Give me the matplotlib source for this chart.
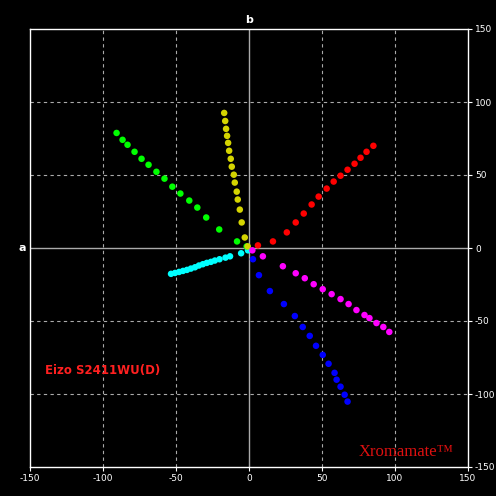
import matplotlib.pyplot as plt

plt.rcParams['axes.unicode_minus'] = False

red_a = [6.1, 16.4, 25.9, 32.0, 37.5, 42.9, 47.7, 53.2, 58.0, 62.7, 67.5, 72.3, 76.4, 80.5, 85.2]
red_b = [1.8, 4.5, 10.7, 17.5, 23.6, 29.8, 35.2, 40.7, 45.5, 49.5, 53.6, 57.7, 61.8, 65.9, 70.0]
magenta_a = [2.3, 9.5, 23.2, 32.0, 38.2, 44.3, 50.5, 56.6, 62.7, 68.2, 73.6, 79.1, 82.5, 87.3, 92.0, 96.1]
magenta_b = [-1.6, -5.7, -12.5, -17.3, -20.7, -24.8, -28.2, -31.6, -35.0, -38.4, -42.5, -45.9, -48.0, -51.4, -54.1, -57.5]
blue_a = [2.7, 6.8, 14.3, 23.9, 31.4, 36.8, 41.6, 45.9, 50.5, 54.5, 58.6, 60.0, 62.7, 65.5, 67.5]
blue_b = [-7.7, -18.6, -29.5, -38.4, -46.6, -54.1, -60.2, -67.0, -73.2, -79.3, -85.5, -90.2, -95.0, -100.5, -105.2]
yellow_a = [-17.0, -16.3, -15.7, -15.0, -14.3, -13.6, -12.5, -11.8, -10.4, -9.75, -8.4, -7.7, -6.3, -5.0, -2.9, -0.9]
yellow_b = [92.5, 87.0, 81.6, 76.8, 72.0, 66.6, 61.1, 55.7, 50.2, 44.8, 38.6, 33.2, 26.3, 17.5, 7.2, 1.1]
green_a = [-90.7, -86.6, -83.2, -78.4, -73.6, -68.8, -63.4, -57.9, -52.5, -47.0, -40.9, -35.4, -29.3, -20.4, -8.2, -1.6]
green_b = [78.8, 74.1, 70.7, 65.9, 61.1, 57.0, 52.2, 47.5, 42.0, 37.3, 32.5, 27.7, 20.9, 12.7, 4.5, 1.1]
cyan_a = [-53.4, -50.7, -47.9, -45.2, -42.5, -39.8, -37.0, -34.3, -31.6, -28.9, -26.1, -23.4, -20.2, -16.1, -13.0, -5.4, -0.7]
cyan_b = [-17.7, -17.1, -16.4, -15.7, -15.0, -14.1, -13.2, -12.0, -11.1, -10.2, -9.5, -8.6, -7.7, -6.6, -5.7, -3.6, -1.6]

series = [
    (cyan_a, cyan_b, '#00ffff'),
    (green_a, green_b, '#00ff00'),
    (yellow_a, yellow_b, '#d4d400'),
    (blue_a, blue_b, '#0000ff'),
    (magenta_a, magenta_b, '#ff00ff'),
    (red_a, red_b, '#ff0000'),
]
ticks = [-150, -100, -50, 0, 50, 100, 150]

fig = plt.figure(figsize=(4.96, 4.96), dpi=100, facecolor='black')
ax = fig.add_axes([30 / 496, 29 / 496, 438 / 496, 438 / 496], facecolor='black')
ax.set_xlim(-150, 150)
ax.set_ylim(-150, 150)

for t in [-100, -50, 50, 100]:
    ax.axvline(t, color='#aaaaaa', ls=(0, (3, 3)), lw=0.8)
    ax.axhline(t, color='#aaaaaa', ls=(0, (3, 3)), lw=0.8)
ax.axvline(0, color='#aaaaaa', lw=1)
ax.axhline(0, color='#aaaaaa', lw=1)

for a, b, c in series:
    ax.scatter(a, b, s=22, color=c, edgecolors='none', zorder=3)

for s in ax.spines.values():
    s.set_color('white')
    s.set_linewidth(1)
ax.set_xticks(ticks)
ax.set_yticks(ticks)
ax.yaxis.tick_right()
ax.tick_params(colors='white', labelsize=6.5, length=3, pad=2)

ax.text(0, 153, 'b', color='white', ha='center', va='bottom', fontsize=8, fontweight='bold')
ax.text(-153, 0, 'a', color='white', ha='right', va='center', fontsize=8, fontweight='bold')
ax.text(-140, -84, 'Eizo S2411WU(D)', color='#ff2020', fontsize=8.5, fontweight='bold', va='center')
ax.text(140, -140, 'Xromamate\u2122', color='#dd1010', fontsize=12, family='Liberation Serif',
        ha='right', va='center')

fig.savefig('out.png', dpi=100, facecolor='black')
